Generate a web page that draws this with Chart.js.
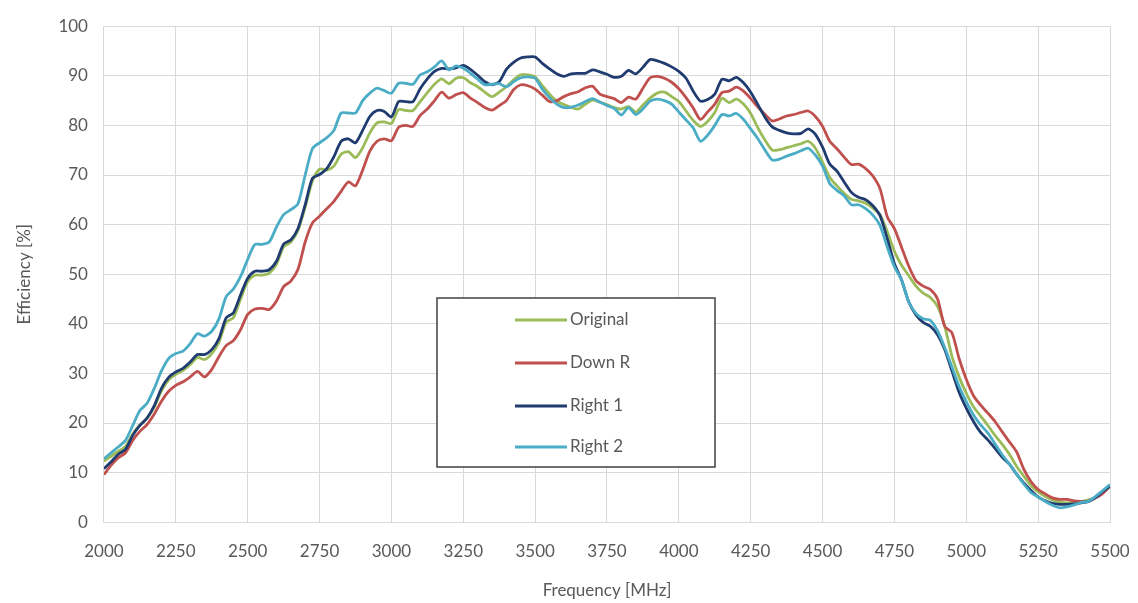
<!DOCTYPE html>
<html>
<head>
<meta charset="utf-8">
<script src="https://cdn.jsdelivr.net/npm/chart.js@4.4.1/dist/chart.umd.min.js"></script>
<style>
  html, body { margin: 0; padding: 0; background: #ffffff; }
  #wrap { width: 1138px; height: 603px; }
</style>
</head>
<body>
<div id="wrap"><canvas id="chart" width="1138" height="603"></canvas></div>
<script>
// Frequency sweep (MHz), 25 MHz steps
const frequency = [];
for (let f = 2000; f <= 5500; f += 25) frequency.push(f);

// Axis ticks
const xTickValues = [2000, 2250, 2500, 2750, 3000, 3250, 3500, 3750, 4000, 4250, 4500, 4750, 5000, 5250, 5500];
const yTickValues = [0, 10, 20, 30, 40, 50, 60, 70, 80, 90, 100];

// Series names
const seriesNames = ['Original', 'Down R', 'Right 1', 'Right 2'];

// Efficiency [%] per configuration
const original = [
  12.3, 13.3, 14.3, 15.3, 17.8, 19.6, 21.0, 23.2, 26.5, 28.7,
  29.8, 30.6, 31.8, 33.2, 32.8, 34.0, 36.3, 40.3, 41.2, 45.0,
  48.5, 49.8, 49.8, 50.2, 52.0, 55.5, 56.5, 58.8, 63.5, 68.8,
  71.2, 71.0, 71.8, 74.2, 74.7, 73.5, 75.5, 78.5, 80.5, 80.7,
  80.4, 83.2, 83.0, 83.0, 84.8, 86.6, 88.3, 89.4, 88.4, 89.5,
  89.6, 88.6, 87.8, 86.7, 85.8, 86.7, 87.8, 89.2, 90.2, 90.2,
  89.8, 88.0, 86.3, 84.9, 84.2, 83.6, 83.3, 84.3, 85.1, 84.7,
  84.2, 83.6, 83.3, 83.8, 82.7, 84.1, 85.5, 86.5, 86.7, 85.8,
  84.8, 82.9, 81.0, 79.8, 80.8, 82.6, 85.5, 84.6, 85.3, 84.3,
  82.4, 79.5, 77.0, 75.0, 75.1, 75.5, 75.9, 76.3, 76.8, 75.4,
  72.6, 69.5, 67.8, 66.3, 65.1, 64.8, 64.3, 63.3, 62.0, 58.6,
  54.6, 51.8, 49.7, 47.6, 46.2, 45.3, 43.5, 39.5, 33.5, 29.3,
  26.0, 23.3, 21.4, 19.5, 17.5, 15.7, 13.7, 11.3, 9.3, 7.4,
  6.1, 5.2, 4.5, 4.1, 3.9, 4.0, 4.2, 4.5, 5.0, 6.0,
  7.2
];
const downR = [
  9.6, 11.5, 13.0, 14.0, 16.5, 18.3, 19.7, 21.8, 24.4, 26.4,
  27.6, 28.3, 29.3, 30.4, 29.3, 30.8, 33.4, 35.6, 36.6, 38.8,
  41.9, 43.0, 43.1, 42.9, 44.6, 47.5, 48.6, 51.0, 56.5, 60.3,
  61.7, 63.2, 64.7, 66.7, 68.6, 67.8, 71.0, 74.8, 76.8, 77.3,
  76.9, 79.6, 80.0, 79.8, 82.0, 83.3, 85.0, 86.7, 85.5, 86.2,
  86.6, 85.5, 84.6, 83.6, 83.1, 84.0, 85.0, 87.2, 88.2, 88.0,
  87.3, 86.1, 84.8, 85.0, 85.8, 86.4, 86.8, 87.6, 87.9, 86.3,
  85.8, 85.4, 84.6, 85.7, 85.3, 87.5, 89.6, 89.9, 89.5, 88.7,
  87.4, 85.6, 83.5, 81.2, 82.7, 84.3, 86.6, 86.9, 87.7, 86.9,
  85.4, 83.7, 82.2, 80.9, 81.3, 81.9, 82.2, 82.6, 82.9, 81.8,
  79.8, 76.8, 75.3, 73.6, 72.1, 72.2, 71.3, 69.8, 67.2, 61.6,
  59.2, 55.4, 51.6, 48.7, 47.6, 46.9, 45.0, 39.5, 38.2, 33.0,
  28.8, 25.5, 23.6, 22.0, 20.3, 18.2, 16.2, 14.2, 10.7, 8.2,
  6.6, 5.7, 4.9, 4.6, 4.6, 4.3, 4.2, 4.2, 4.9, 5.8,
  7.3
];
const right1 = [
  10.8, 12.2, 13.7, 14.7, 17.5, 19.5, 21.0, 23.5, 27.0, 29.2,
  30.3, 31.0, 32.3, 33.8, 33.8, 34.8, 37.0, 41.2, 42.2, 45.8,
  49.2, 50.6, 50.6, 50.9, 52.6, 56.1, 56.9, 59.2, 64.0, 69.3,
  70.1, 71.3, 73.7, 76.8, 77.3, 76.5, 79.0, 81.8, 83.0, 82.8,
  81.7, 84.8, 84.8, 84.8, 87.4, 89.4, 90.9, 91.5, 91.4, 91.6,
  92.1, 91.3, 90.1, 88.8, 88.2, 88.8, 91.3, 92.7, 93.6, 93.8,
  93.8, 92.5, 91.4, 90.4, 89.9, 90.4, 90.5, 90.5, 91.2, 90.8,
  90.3, 89.7, 89.9, 91.1, 90.4, 91.7, 93.3, 93.0, 92.5, 91.8,
  90.9, 89.5, 86.9, 84.9, 85.2, 86.3, 89.3, 89.0, 89.7, 88.6,
  86.7, 84.2, 81.6, 79.7, 79.0, 78.5, 78.3, 78.4, 79.3, 78.2,
  75.6, 72.2, 70.8, 68.6, 66.5, 65.5, 65.0, 63.8, 61.8, 57.2,
  52.1, 48.8, 44.4, 41.8, 40.3, 39.5, 37.8, 34.8, 30.5, 26.2,
  23.0, 20.3, 18.1, 16.6, 14.9, 13.1, 11.7, 9.7, 7.9, 6.4,
  5.1, 4.3, 3.8, 3.6, 3.6, 3.7, 3.9, 4.2, 5.0, 6.2,
  7.3
];
const right2 = [
  12.8, 14.0, 15.2, 16.5, 19.5, 22.5, 24.0, 27.0, 30.5, 33.0,
  34.0, 34.5, 36.0, 38.0, 37.5, 38.5, 41.0, 45.5, 47.0, 49.5,
  53.0, 56.0, 56.0, 56.5, 59.5, 62.0, 63.0, 64.2, 70.0, 75.3,
  76.5, 77.5, 79.0, 82.5, 82.5, 82.5, 85.0, 86.5, 87.5, 87.0,
  86.5, 88.5, 88.5, 88.3, 90.2, 90.8, 91.8, 93.0, 91.2, 92.0,
  91.5, 90.5, 89.3, 88.2, 88.3, 88.4, 87.8, 88.8, 89.6, 89.8,
  89.5, 87.3, 85.6, 84.3, 83.6, 83.7, 84.1, 84.8, 85.4, 84.7,
  84.0, 83.4, 82.1, 83.6, 82.2, 83.3, 84.9, 85.3, 85.0, 84.3,
  82.7, 81.1, 79.5, 76.8, 78.0, 80.0, 82.2, 81.9, 82.4, 81.2,
  79.3, 77.3, 75.0, 73.0, 73.2, 73.8, 74.3, 74.9, 75.4, 74.0,
  71.8, 68.3, 66.9, 65.8, 64.0, 64.0, 63.2, 61.9, 59.8, 55.5,
  51.5, 48.8, 44.4, 42.1, 41.0, 40.7, 38.6, 35.2, 31.3, 27.4,
  24.3, 21.6, 19.6, 18.0, 15.8, 13.6, 11.7, 9.7, 7.7, 6.0,
  5.1, 4.2, 3.4, 2.9, 3.1, 3.5, 4.0, 4.2, 5.2, 6.4,
  7.6
];

const seriesValues = [original, downR, right1, right2];
const seriesColors = ['#9BBB59', '#C0504D', '#1F3B6F', '#4BACC6'];

const FONT = 'Lato, "Open Sans", sans-serif';
const TEXT = '#595959';
const GRID = '#D9D9D9';

// Framed legend placed inside the plot area
const boxLegend = {
  id: 'boxLegend',
  afterDraw(chart) {
    const ctx = chart.ctx;
    const left = 437, top = 298, right = 715, bottom = 467;
    ctx.save();
    ctx.fillStyle = '#ffffff';
    ctx.fillRect(left, top, right - left, bottom - top);
    ctx.strokeStyle = '#404040';
    ctx.lineWidth = 1.5;
    ctx.strokeRect(left, top, right - left, bottom - top);
    ctx.font = '17px ' + FONT;
    ctx.textBaseline = 'middle';
    ctx.textAlign = 'left';
    const rowY = [320, 363, 406, 447];
    chart.data.datasets.forEach((ds, i) => {
      const y = rowY[i];
      ctx.strokeStyle = ds.borderColor;
      ctx.lineWidth = 3;
      ctx.beginPath();
      ctx.moveTo(515, y);
      ctx.lineTo(567, y);
      ctx.stroke();
      ctx.fillStyle = TEXT;
      ctx.fillText(ds.label, 570, y);
    });
    ctx.restore();
  }
};

const datasets = seriesNames.map((name, i) => ({
  label: name,
  data: frequency.map((f, j) => ({ x: f, y: seriesValues[i][j] })),
  borderColor: seriesColors[i],
  backgroundColor: seriesColors[i],
  borderWidth: 2.8,
  pointRadius: 0,
  tension: 0.25,
  fill: false,
  order: seriesNames.length - i
}));

new Chart(document.getElementById('chart'), {
  type: 'line',
  data: { datasets },
  options: {
    responsive: false,
    animation: false,
    events: [],
    layout: { padding: { left: 14, right: 28, top: 16, bottom: 2 } },
    plugins: { legend: { display: false }, tooltip: { enabled: false } },
    scales: {
      x: {
        type: 'linear',
        min: 2000,
        max: 5500,
        afterBuildTicks: (s) => { s.ticks = xTickValues.map(v => ({ value: v })); },
        afterFit: (s) => { s.paddingRight = 0; },
        grid: { color: GRID, lineWidth: 1, drawTicks: false },
        border: { color: GRID },
        ticks: {
          color: TEXT, font: { family: FONT, size: 17 }, padding: 19, maxRotation: 0, autoSkip: false,
          callback: (v) => String(v)
        },
        title: { display: true, text: 'Frequency [MHz]', color: TEXT, font: { family: FONT, size: 17 }, padding: { top: 0, bottom: 0 } }
      },
      y: {
        min: 0,
        max: 100,
        afterBuildTicks: (s) => { s.ticks = yTickValues.map(v => ({ value: v })); },
        grid: { color: GRID, lineWidth: 1, drawTicks: false },
        border: { color: GRID },
        ticks: { color: TEXT, font: { family: FONT, size: 17 }, padding: 16, callback: (v) => String(v) },
        title: { display: true, text: 'Efficiency [%]', color: TEXT, font: { family: FONT, size: 17 }, padding: { top: 0, bottom: 8 } }
      }
    }
  },
  plugins: [boxLegend]
});
</script>
</body>
</html>
